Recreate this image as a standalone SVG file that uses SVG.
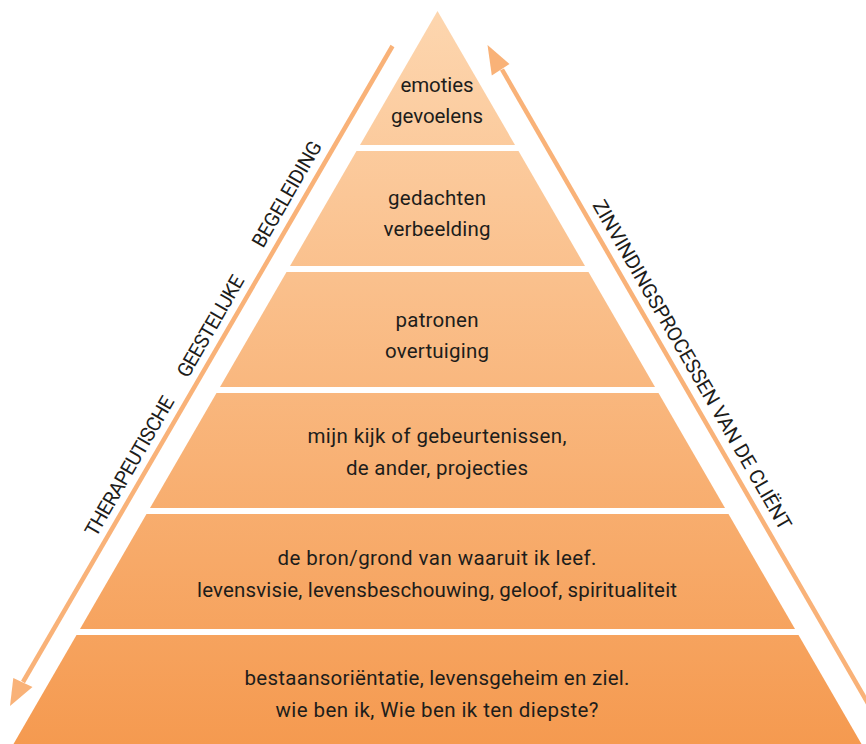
<svg xmlns="http://www.w3.org/2000/svg" width="866" height="744" viewBox="0 0 866 744">
  <defs>
    <linearGradient id="pyr" gradientUnits="userSpaceOnUse" x1="0" y1="11" x2="0" y2="744">
      <stop offset="0" stop-color="#FDD6AF"/>
      <stop offset="1" stop-color="#F59A50"/>
    </linearGradient>
    <style>
      .tier { fill: url(#pyr); }
      .lbl { font-family: Roboto, "Open Sans", "Liberation Sans", sans-serif; font-size: 20.5px; fill: #1d1d1b; text-anchor: middle; }
      .side { font-family: Roboto, "Open Sans", "Liberation Sans", sans-serif; font-size: 20px; fill: #1d1d1b; }
      .arrowline { stroke: #F9B278; stroke-width: 4.5; fill: none; }
      .arrowhead { fill: #F9B278; }
    </style>
  </defs>
  <rect width="866" height="744" fill="#ffffff"/>

  <g id="tier1">
    <polygon class="tier" points="437.5,11 515,145 360,145"/>
    <text class="lbl" x="437" y="92" textLength="73">emoties</text>
    <text class="lbl" x="437" y="123" textLength="92">gevoelens</text>
  </g>
  <g id="tier2">
    <polygon class="tier" points="356.5,151 518.5,151 585,266 290,266"/>
    <text class="lbl" x="437" y="205" textLength="98">gedachten</text>
    <text class="lbl" x="437" y="236" textLength="107">verbeelding</text>
  </g>
  <g id="tier3">
    <polygon class="tier" points="286.5,272 588.5,272 655,387 220,387"/>
    <text class="lbl" x="437" y="327" textLength="83">patronen</text>
    <text class="lbl" x="437" y="358" textLength="104">overtuiging</text>
  </g>
  <g id="tier4">
    <polygon class="tier" points="216.5,393 658.5,393 725,508 150,508"/>
    <text class="lbl" x="437" y="443" textLength="259">mijn kijk of gebeurtenissen,</text>
    <text class="lbl" x="437" y="475" textLength="182">de ander, projecties</text>
  </g>
  <g id="tier5">
    <polygon class="tier" points="146.5,514 728.5,514 795,629 80,629"/>
    <text class="lbl" x="437" y="565" textLength="319">de bron/grond van waaruit ik leef.</text>
    <text class="lbl" x="437" y="597" textLength="480">levensvisie, levensbeschouwing, geloof, spiritualiteit</text>
  </g>
  <g id="tier6">
    <polygon class="tier" points="76.5,635 798.5,635 861.5,744 13.5,744"/>
    <text class="lbl" x="437" y="685" textLength="385">bestaansoriëntatie, levensgeheim en ziel.</text>
    <text class="lbl" x="437" y="717" textLength="323">wie ben ik, Wie ben ik ten diepste?</text>
  </g>

  <g id="connectors">
    <line class="arrowline" x1="392.5" y1="46" x2="23" y2="682"/>
    <polygon class="arrowhead" points="10,706 13.3,678 32.5,687"/>
    <line class="arrowline" x1="502" y1="69.5" x2="900" y2="759"/>
    <polygon class="arrowhead" points="487.5,45 491.8,75.5 509.5,64"/>
  </g>

  <g id="label-left">
    <text class="side" transform="translate(96,538) rotate(-60)" textLength="158">THERAPEUTISCHE</text>
    <text class="side" transform="translate(188,379) rotate(-60)" textLength="114">GEESTELIJKE</text>
    <text class="side" transform="translate(263,249) rotate(-60)" textLength="119">BEGELEIDING</text>
  </g>
  <g id="label-right">
    <text class="side" transform="translate(592,205) rotate(60)" textLength="377">ZINVINDINGSPROCESSEN VAN DE CLIËNT</text>
  </g>
</svg>
